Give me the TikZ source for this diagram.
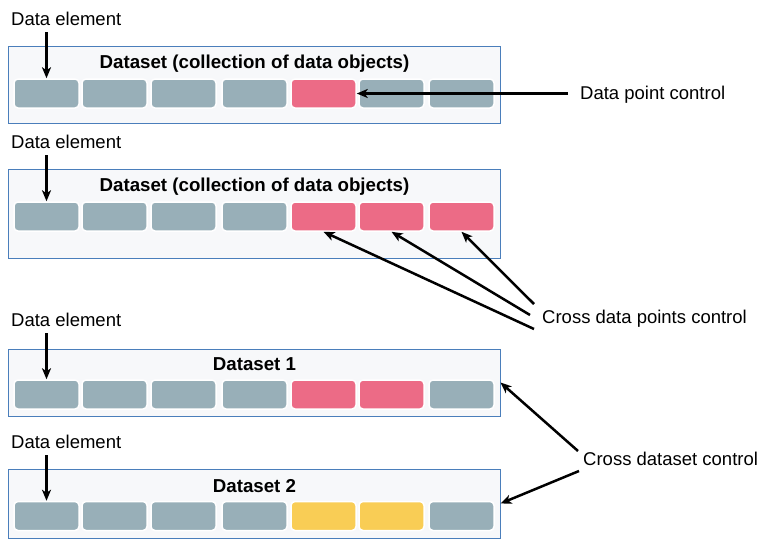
\documentclass[tikz,border=0pt]{standalone}
\usepackage{fontspec}
\setmainfont{Liberation Sans}
\usetikzlibrary{arrows.meta}
\definecolor{cgray}{HTML}{98AFB8}
\definecolor{cpink}{HTML}{EC6B86}
\definecolor{cyellow}{HTML}{F9CD55}
\definecolor{boxblue}{HTML}{4A7EBB}
\definecolor{boxfill}{HTML}{F7F8FA}

\begin{document}
\begin{tikzpicture}[x=1pt, y=-1pt,
  every node/.style={font=\fontsize{18.5}{22}\selectfont},
  dsbox/.style={draw=boxblue, fill=boxfill, line width=1pt, inner sep=0},
  cell/.style={draw=white, line width=1.5pt, rounded corners=4pt, minimum width=65pt, minimum height=29pt, inner sep=0},
  title/.style={font=\fontsize{18.7}{22}\selectfont\bfseries, inner sep=0, anchor=base},
  lbl/.style={inner sep=0, anchor=base west},
  arr/.style={line width=2.5pt, -{Stealth[length=11pt, width=9pt, inset=3pt]}}]
\useasboundingbox (0,0) rectangle (772,539);
% dataset boxes
\node[dsbox, minimum width=492pt, minimum height=77pt] (ds1) at (254,84.5) {};
\node[dsbox, minimum width=492pt, minimum height=89pt] (ds2) at (254,213.5) {};
\node[dsbox, minimum width=492pt, minimum height=67pt] (ds3) at (254,382.5) {};
\node[dsbox, minimum width=492pt, minimum height=69pt] (ds4) at (254,503.5) {};
% titles
\node[title] (t1) at (254.5,68) {Dataset (collection of data objects)};
\node[title] (t2) at (254.5,191) {Dataset (collection of data objects)};
\node[title] (t3) at (254.5,370) {Dataset 1};
\node[title] (t4) at (254.5,492) {Dataset 2};
% data elements
\foreach \cx/\col [count=\i] in {46.5/cgray,114.5/cgray,183.5/cgray,254.5/cgray,323.5/cpink,391.5/cgray,461.5/cgray}
  \node[cell, fill=\col] (c1-\i) at (\cx,93.5) {};
\foreach \cx/\col [count=\i] in {46.5/cgray,114.5/cgray,183.5/cgray,254.5/cgray,323.5/cpink,391.5/cpink,461.5/cpink}
  \node[cell, fill=\col] (c2-\i) at (\cx,216.5) {};
\foreach \cx/\col [count=\i] in {46.5/cgray,114.5/cgray,183.5/cgray,254.5/cgray,323.5/cpink,391.5/cpink,461.5/cgray}
  \node[cell, fill=\col] (c3-\i) at (\cx,394.5) {};
\foreach \cx/\col [count=\i] in {46.5/cgray,114.5/cgray,183.5/cgray,254.5/cgray,323.5/cyellow,391.5/cyellow,461.5/cgray}
  \node[cell, fill=\col] (c4-\i) at (\cx,516) {};
% left labels
\node[lbl] (de1) at (11,25) {Data element};
\node[lbl] (de2) at (11,148) {Data element};
\node[lbl] (de3) at (11,326) {Data element};
\node[lbl] (de4) at (11,448) {Data element};
\foreach \p in {1,2,3,4}
  \draw[arr] ([yshift=-7pt]de\p.south -| c\p-1) -- (c\p-1.north);
% right labels
\node[lbl] (dpc) at (580,99) {Data point control};
\node[lbl] (cdp) at (542,323) {Cross data points control};
\node[lbl] (cdc) at (583,465) {Cross dataset control};
% control arrows
\coordinate (dpc-a) at (568,93.5);
\coordinate (cdp-a) at (534,304);
\coordinate (cdp-b) at (530,315);
\coordinate (cdp-c) at (534,329);
\coordinate (cdc-a) at (578,451);
\coordinate (cdc-b) at (579,471);
\draw[arr] (dpc-a) -- (c1-5.east);
\draw[arr] (cdp-a) -- (c2-7.south);
\draw[arr] (cdp-b) -- (c2-6.south);
\draw[arr] (cdp-c) -- (c2-5.south);
\draw[arr] (cdc-a) -- (ds3.east);
\draw[arr] (cdc-b) -- (ds4.east);
\end{tikzpicture}
\end{document}
